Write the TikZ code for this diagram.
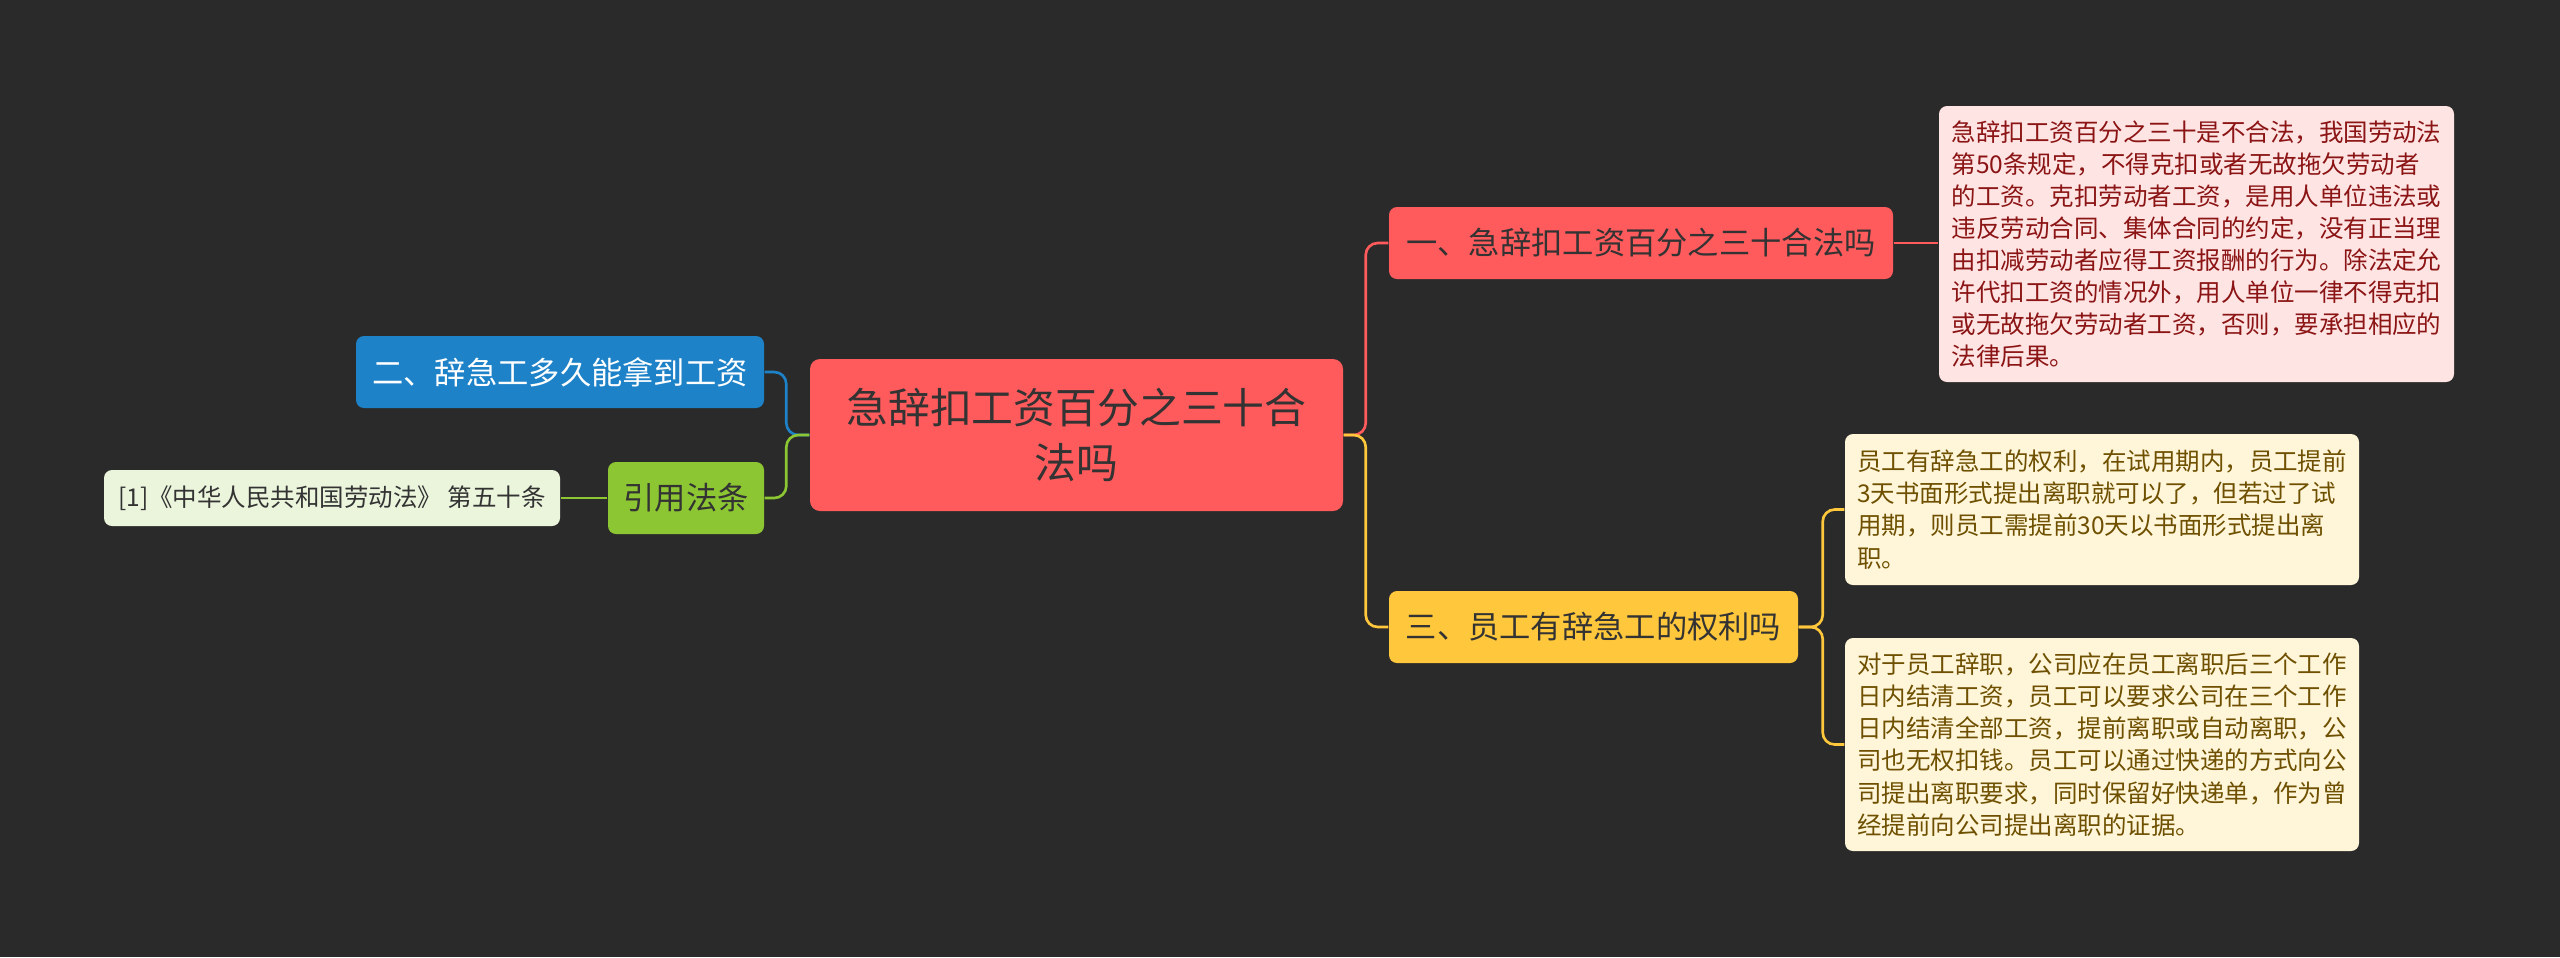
\documentclass[tikz,border=0pt]{standalone}
\usepackage{fontspec}
\newfontfamily\cjk{Noto Sans CJK SC}
\usetikzlibrary{positioning,calc}
\definecolor{mBg}{RGB}{42,42,42}
\definecolor{mRed}{RGB}{255,90,92}
\definecolor{mRedLeaf}{RGB}{255,228,228}
\definecolor{mRedInk}{RGB}{139,20,20}
\definecolor{mYellow}{RGB}{255,200,60}
\definecolor{mYellowLeaf}{RGB}{255,246,218}
\definecolor{mYellowInk}{RGB}{110,80,0}
\definecolor{mBlue}{RGB}{30,130,200}
\definecolor{mGreen}{RGB}{140,198,50}
\definecolor{mGreenLeaf}{RGB}{235,245,220}
\definecolor{mInk}{RGB}{51,51,51}

\begin{document}
\begin{tikzpicture}[
				root/.style={
					fill=mRed,rounded corners=0.1cm,
					minimum width=5.33cm,minimum height=1.52cm,
					align=center,font=\cjk\fontsize{11.9}{15.9}\selectfont,text=mInk
				},
				topic/.style={
					rounded corners=0.08cm,minimum height=0.72cm,inner sep=0pt,
					font=\cjk\fontsize{8.9}{11}\selectfont,text=mInk
				},
				leaf/.style={
					rounded corners=0.08cm,inner sep=0pt,align=left,
					font=\cjk\fontsize{6.97}{9.13}\selectfont
				},
				link/.style={line width=0.75pt,rounded corners=0.12cm}
				]
				\useasboundingbox[fill=mBg] (0,0) rectangle (25.6,-9.57);

				\node[root] (c) at (10.765,-4.35) {急辞扣工资百分之三十合\\法吗};

				\node[topic,fill=mRed,minimum width=5.04cm]    (t1) at (16.41,-2.43) {一、急辞扣工资百分之三十合法吗};
				\node[topic,fill=mYellow,minimum width=4.09cm] (t3) at (15.935,-6.27) {三、员工有辞急工的权利吗};
				\node[topic,fill=mBlue,text=white,minimum width=4.08cm] (t2) at (5.60,-3.72) {二、辞急工多久能拿到工资};
				\node[topic,fill=mGreen,minimum width=1.56cm]  (cite) at (6.86,-4.98) {引用法条};

				\node[leaf,fill=mRedLeaf,text=mRedInk,minimum width=5.15cm,minimum height=2.76cm] (l1) at (21.965,-2.44)
				{急辞扣工资百分之三十是不合法，我国劳动法\\第50条规定，不得克扣或者无故拖欠劳动者\\的工资。克扣劳动者工资，是用人单位违法或\\违反劳动合同、集体合同的约定，没有正当理\\由扣减劳动者应得工资报酬的行为。除法定允\\许代扣工资的情况外，用人单位一律不得克扣\\或无故拖欠劳动者工资，否则，要承担相应的\\法律后果。};
				\node[leaf,fill=mYellowLeaf,text=mYellowInk,minimum width=5.14cm,minimum height=1.51cm] (l2) at (21.02,-5.095)
				{员工有辞急工的权利，在试用期内，员工提前\\3天书面形式提出离职就可以了，但若过了试\\用期，则员工需提前30天以书面形式提出离\\职。};
				\node[leaf,fill=mYellowLeaf,text=mYellowInk,minimum width=5.14cm,minimum height=2.13cm] (l3) at (21.02,-7.445)
				{对于员工辞职，公司应在员工离职后三个工作\\日内结清工资，员工可以要求公司在三个工作\\日内结清全部工资，提前离职或自动离职，公\\司也无权扣钱。员工可以通过快递的方式向公\\司提出离职要求，同时保留好快递单，作为曾\\经提前向公司提出离职的证据。};
				\node[leaf,fill=mGreenLeaf,text=mInk,minimum width=4.56cm,minimum height=0.56cm] (ref) at (3.32,-4.98)
				{[1]《中华人民共和国劳动法》 第五十条};

				% right side
				\draw[link,mRed] (c.east) -- ++(0.22,0) |- (t1.west);
				\draw[link,mYellow] (c.east) -- ++(0.22,0) |- (t3.west);
				\draw[link,mRed] (t1.east) -- (t1.east -| l1.west);
				\draw[link,mYellow] (t3.east) -- ++(0.24,0) |- (l2.west);
				\draw[link,mYellow] (t3.east) -- ++(0.24,0) |- (l3.west);

				% left side
				\draw[link,mBlue] (c.west) -- ++(-0.23,0) |- (t2.east);
				\draw[link,mGreen] (c.west) -- ++(-0.23,0) |- (cite.east);
				\draw[link,mGreen] (cite.west) -- (ref.east);
			\end{tikzpicture}
\end{document}
